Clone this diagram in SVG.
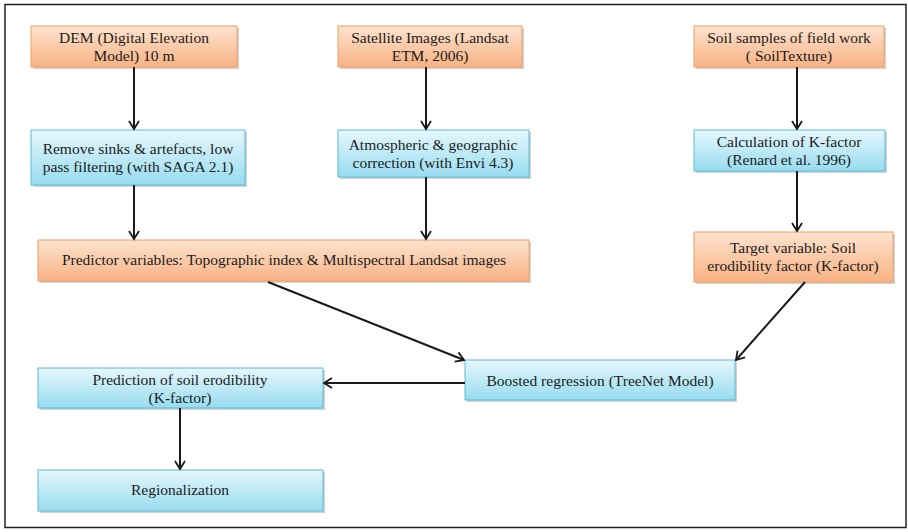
<svg xmlns="http://www.w3.org/2000/svg" width="908" height="532" viewBox="0 0 908 532">
<defs>
<linearGradient id="og" x1="0" y1="0" x2="0" y2="1">
<stop offset="0" stop-color="#fde3cf"/>
<stop offset="1" stop-color="#f8b283"/>
</linearGradient>
<linearGradient id="bg" x1="0" y1="0" x2="0" y2="1">
<stop offset="0" stop-color="#e6f7fc"/>
<stop offset="1" stop-color="#97dcf0"/>
</linearGradient>
<marker id="ah" markerWidth="12" markerHeight="12" refX="10" refY="6" orient="auto" markerUnits="userSpaceOnUse">
<path d="M2,1 L10,6 L2,11" fill="none" stroke="#1a1a1a" stroke-width="1.8"/>
</marker>
</defs>
<style>
.o{fill:url(#og);stroke:#f0a060;stroke-width:1}
.b{fill:url(#bg);stroke:#5bbcd6;stroke-width:1}
.sh{fill:#000;opacity:0.18}
.t{font-family:"Liberation Serif","Times New Roman","DejaVu Serif",serif;font-size:15.5px;fill:#1c1c1c;text-anchor:middle}
.c{stroke:#1a1a1a;stroke-width:2;fill:none;marker-end:url(#ah)}
</style>
<rect x="0" y="0" width="908" height="532" fill="#fff"/>
<rect x="5" y="4.5" width="901" height="523" fill="none" stroke="#222" stroke-width="1.5"/>
<g id="dem"><rect class="sh" x="33" y="28" width="206" height="41"/><rect class="o" x="31" y="26" width="206" height="41"/><text class="t" font-family="Liberation Serif, serif" x="134" y="43">DEM (Digital Elevation</text><text class="t" font-family="Liberation Serif, serif" x="134" y="61">Model) 10 m</text></g>
<g id="sat"><rect class="sh" x="340" y="28" width="184" height="41"/><rect class="o" x="338" y="26" width="184" height="41"/><text class="t" font-family="Liberation Serif, serif" x="430" y="43">Satellite Images (Landsat</text><text class="t" font-family="Liberation Serif, serif" x="430" y="61">ETM, 2006)</text></g>
<g id="soil"><rect class="sh" x="696" y="28" width="190" height="41"/><rect class="o" x="694" y="26" width="190" height="41"/><text class="t" font-family="Liberation Serif, serif" x="789" y="43">Soil samples of field work</text><text class="t" font-family="Liberation Serif, serif" x="789" y="61">( SoilTexture)</text></g>
<g id="remove"><rect class="sh" x="33" y="132" width="214" height="55"/><rect class="b" x="31" y="130" width="214" height="55"/><text class="t" font-family="Liberation Serif, serif" x="138" y="154">Remove sinks &amp; artefacts, low</text><text class="t" font-family="Liberation Serif, serif" x="138" y="172">pass filtering (with SAGA 2.1)</text></g>
<g id="atmos"><rect class="sh" x="340" y="132" width="191" height="47"/><rect class="b" x="338" y="130" width="191" height="47"/><text class="t" font-family="Liberation Serif, serif" x="433" y="150">Atmospheric &amp; geographic</text><text class="t" font-family="Liberation Serif, serif" x="433" y="168">correction (with Envi 4.3)</text></g>
<g id="calc"><rect class="sh" x="696" y="132" width="191" height="41"/><rect class="b" x="694" y="130" width="191" height="41"/><text class="t" font-family="Liberation Serif, serif" x="789" y="147">Calculation  of K-factor</text><text class="t" font-family="Liberation Serif, serif" x="789" y="165">(Renard et al. 1996)</text></g>
<g id="predictor"><rect class="sh" x="40" y="242" width="491" height="41"/><rect class="o" x="38" y="240" width="491" height="41"/><text class="t" font-family="Liberation Serif, serif" x="284" y="265">Predictor variables: Topographic index &amp; Multispectral Landsat images</text></g>
<g id="target"><rect class="sh" x="696" y="234" width="199" height="50"/><rect class="o" x="694" y="232" width="199" height="50"/><text class="t" font-family="Liberation Serif, serif" x="793" y="253">Target variable: Soil</text><text class="t" font-family="Liberation Serif, serif" x="793" y="271">erodibility factor (K-factor)</text></g>
<g id="boosted"><rect class="sh" x="467" y="362" width="270" height="40"/><rect class="b" x="465" y="360" width="270" height="40"/><text class="t" font-family="Liberation Serif, serif" x="600" y="386">Boosted regression (TreeNet Model)</text></g>
<g id="prediction"><rect class="sh" x="40" y="370" width="285" height="40"/><rect class="b" x="38" y="368" width="285" height="40"/><text class="t" font-family="Liberation Serif, serif" x="180" y="385">Prediction of soil erodibility</text><text class="t" font-family="Liberation Serif, serif" x="180" y="403">(K-factor)</text></g>
<g id="region"><rect class="sh" x="40" y="472" width="285" height="41"/><rect class="b" x="38" y="470" width="285" height="41"/><text class="t" font-family="Liberation Serif, serif" x="180" y="495">Regionalization</text></g>
<g id="connectors">
<line class="c" x1="134" y1="67" x2="134" y2="129"/>
<line class="c" x1="426" y1="67" x2="426" y2="129"/>
<line class="c" x1="797" y1="67" x2="797" y2="129"/>
<line class="c" x1="134" y1="185" x2="134" y2="239"/>
<line class="c" x1="426" y1="177" x2="426" y2="239"/>
<line class="c" x1="797" y1="171" x2="797" y2="231"/>
<line class="c" x1="268" y1="282" x2="464" y2="360"/>
<line class="c" x1="805" y1="282" x2="736" y2="360"/>
<line class="c" x1="465" y1="383" x2="324" y2="383"/>
<line class="c" x1="180" y1="408" x2="180" y2="469"/>
</g>
</svg>
